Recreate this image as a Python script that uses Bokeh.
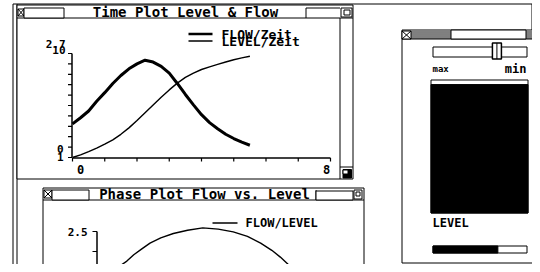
from bokeh.plotting import figure
from bokeh.models import Range1d
from bokeh.embed import file_html
from bokeh.resources import INLINE
from bokeh.core.properties import value

# ---------------- data ----------------
time = [0, 0.25, 0.5, 0.75, 1.0, 1.25, 1.5, 1.75, 2.0, 2.25, 2.5, 2.75,
        3.0, 3.25, 3.5, 3.75, 4.0, 4.25, 4.5, 4.75, 5.0, 5.25, 5.5]
flow = [1.55, 1.65, 1.76, 1.92, 2.06, 2.21, 2.34, 2.45, 2.53, 2.59, 2.56, 2.49,
        2.38, 2.21, 2.03, 1.86, 1.70, 1.57, 1.47, 1.38, 1.31, 1.25, 1.20]
level = [0.0, 0.25, 0.56, 0.9, 1.28, 1.7, 2.23, 2.85, 3.55, 4.3, 5.06, 5.8,
         6.5, 7.15, 7.7, 8.12, 8.46, 8.72, 8.95, 9.18, 9.4, 9.58, 9.73]

time_ticks = [0, 1, 2, 3, 4, 5, 6, 7, 8]
time_tick_labels = ["0", "8"]
level_ticks = [0, 1, 2, 3, 4, 5, 6, 7, 8, 9, 10]
level_tick_labels = ["10", "0"]
flow_tick_labels = ["2.7", "1"]
phase_flow_ticks = [2.5, 2.0, 1.5]
phase_flow_label = "2.5"
legend_time = ["FLOW/Zeit", "LEVEL/Zeit"]
legend_phase = "FLOW/LEVEL"
titles = ["Time Plot Level & Flow", "Phase Plot Flow vs. Level"]
slider_value = 0.68      # fraction of slider travel
progress_value = 0.69    # fraction of progress bar
level_max = 10.0         # gauge full scale

# ---------------- layout (screen pixel geometry) ----------------
W, H = 532, 264
X0, Y0 = 0, 0
FONT = value("DejaVu Sans Mono")

p = figure(width=W, height=H, output_backend="svg", toolbar_location=None,
           x_range=Range1d(X0, X0 + W), y_range=Range1d(Y0 + H, Y0),
           min_border=0, outline_line_color=None)
p.axis.visible = False
p.grid.visible = False
p.background_fill_color = "white"
p.border_fill_color = "white"

# time plot mapping: t 0..8 -> x 72..330 ; level 0..10 -> y 157..53 ; flow 1..2.7 -> same
tx0, tx1 = 72, 330
ty0, ty1 = 157, 53
kt = (tx1 - tx0) / (time_ticks[-1] - time_ticks[0])
kl = (ty0 - ty1) / (level_ticks[-1] - level_ticks[0])
kf = (ty0 - ty1) / (2.7 - 1.0)
p.extra_x_ranges = {
    "t": Range1d((X0 - tx0) / kt, time_ticks[-1] + (X0 + W - tx1) / kt),
}
p.extra_y_ranges = {
    "level": Range1d(-(Y0 + H - ty0) / kl, 10 + (ty1 - Y0) / kl),
    "flow": Range1d(1.0 - (Y0 + H - ty0) / kf, 2.7 + (ty1 - Y0) / kf),
}
# phase plot mapping: level 0 -> x 115 ; flow 2.5 -> y 231
px0, kpx = 115, 20.3
py0, kpy = 231, 40.0
p.extra_x_ranges["plevel"] = Range1d((X0 - px0) / kpx, (X0 + W - px0) / kpx)
p.extra_y_ranges["pflow"] = Range1d(2.5 - (Y0 + H - py0) / kpy, 2.5 + (py0 - Y0) / kpy)


def box(l, r, t, b, fill="white", lw=1):
    p.quad(left=[l], right=[r], top=[t], bottom=[b], fill_color=fill,
           line_color="black", line_width=lw)


def hline(x0, x1, y, lw=1):
    p.segment(x0=[x0], x1=[x1], y0=[y], y1=[y], line_color="black", line_width=lw)


def vline(x, y0, y1, lw=1):
    p.segment(x0=[x], x1=[x], y0=[y0], y1=[y1], line_color="black", line_width=lw)


def closebox(l, r, t, b):
    box(l, r, t, b)
    p.segment(x0=[l, l], x1=[r, r], y0=[t, b], y1=[b, t], line_color="black", line_width=1)


def label(x, y, s, size="13px", align="left", style="bold", **kw):
    p.text(x=[x], y=[y], text=[s], text_font=FONT, text_font_size=size,
           text_font_style=style, text_align=align, text_baseline="middle",
           text_color="black", **kw)


# ---------------- background desktop frame ----------------
hline(12.5, 534.5, 3.5)
vline(12.5, 3.5, 275)
vline(16.5, 3.5, 275)
vline(531.5, 3.5, 262.5)

# ---------------- top window ----------------
box(16.5, 352.5, 4.5, 178.5)
hline(16.5, 352.5, 17.5)
closebox(17.5, 23.5, 8.5, 15.5)
box(23.5, 63.5, 7.5, 17.5)
vline(305.5, 7.5, 17.5)
hline(305.5, 339.5, 7.5)
box(340.5, 351.5, 7.5, 16.5)
box(343.5, 349.5, 9.5, 14.5)
label(185, 11, titles[0], size="14px", align="center")
# scrollbar + grow box
vline(339.5, 17.5, 178.5)
hline(339.5, 352.5, 166.5)
p.quad(left=[342.5], right=[351], top=[169], bottom=[177.5], fill_color="black", line_color="black")
box(342.5, 347.5, 169.5, 173.5)

# time plot axes
p.segment(x0=[tx0 - 0.5], x1=[tx0 - 0.5], y0=[level_ticks[0]], y1=[level_ticks[-1]],
          y_range_name="level", line_color="black", line_width=1.5)
p.segment(x0=[tx0 - 4.5] * len(level_ticks), x1=[tx0 - 0.5] * len(level_ticks),
          y0=level_ticks, y1=level_ticks, y_range_name="level",
          line_color="black", line_width=1.2)
p.segment(x0=[time_ticks[0]], x1=[time_ticks[-1]], y0=[ty0 + 0.5], y1=[ty0 + 0.5],
          x_range_name="t", line_color="black", line_width=1.5)
p.segment(x0=time_ticks, x1=time_ticks, y0=[ty0 + 0.5] * len(time_ticks),
          y1=[ty0 + 4] * len(time_ticks), x_range_name="t", line_color="black", line_width=1.2)
p.text(x=[time_ticks[0], time_ticks[-1]], y=[169, 169], text=time_tick_labels,
       x_range_name="t", x_offset=[8, -4], text_font=FONT, text_font_size="12px",
       text_font_style="bold", text_align="center", text_baseline="middle")
# dual y labels (LEVEL and FLOW scales superimposed)
p.text(x=[65, 63], y=[level_ticks[-1], level_ticks[0]], text=level_tick_labels,
       y_range_name="level", y_offset=[-4, -9], text_font=FONT, text_font_size="11px",
       text_font_style="bold", text_align="right", text_baseline="middle")
p.text(x=[65, 63], y=[2.7, 1.0], text=flow_tick_labels, y_range_name="flow",
       y_offset=[-10, -1], text_font=FONT, text_font_size="11px",
       text_font_style="bold", text_align="right", text_baseline="middle")

# curves
p.line(time, flow, x_range_name="t", y_range_name="flow", line_color="black",
       line_width=3, line_join="round")
p.line(time, level, x_range_name="t", y_range_name="level", line_color="black",
       line_width=1.4, line_join="round")

# legend
hline(188, 212, 33.5, lw=2.5)
hline(188, 212, 40.5, lw=1.5)
label(221, 33.5, legend_time[0], size="13px")
label(221, 41, legend_time[1], size="13px")

# ---------------- bottom window (phase plot) ----------------
box(42.5, 363.5, 187.5, 285)
hline(42.5, 363.5, 199.5)
closebox(43.5, 51.5, 189.5, 197.5)
box(51.5, 88.5, 189.5, 199.5)
vline(315.5, 189.5, 199.5)
box(315.5, 352.5, 190.5, 199.5)
box(353.5, 361.5, 189.5, 198.5)
box(355.5, 359.5, 191.5, 195.5)
label(204, 193, titles[1], size="14px", align="center")

p.segment(x0=[96.5], x1=[96.5], y0=[phase_flow_ticks[0]], y1=[phase_flow_ticks[-1]],
          y_range_name="pflow", line_color="black", line_width=1.5)
p.segment(x0=[92] * len(phase_flow_ticks), x1=[96.5] * len(phase_flow_ticks),
          y0=phase_flow_ticks, y1=phase_flow_ticks, y_range_name="pflow",
          line_color="black", line_width=1.2)
p.text(x=[87], y=[phase_flow_ticks[0]], text=[phase_flow_label], y_range_name="pflow",
       text_font=FONT, text_font_size="11px", text_font_style="bold",
       text_align="right", text_baseline="middle")
p.line(level, flow, x_range_name="plevel", y_range_name="pflow", line_color="black",
       line_width=1.4, line_join="round")
hline(212, 237, 222.5, lw=1.4)
label(245, 222.5, legend_phase, size="12px")

# ---------------- right window (controls) ----------------
box(401.5, 535.5, 29.5, 262.5)
hline(401.5, 535.5, 38.5)
closebox(401.5, 410.5, 30.5, 38.5)
for yy in (31.5, 33.5, 35.5, 37.5):
    hline(410.5, 450.5, yy)
    hline(525.5, 535.5, yy)
box(450.5, 525.5, 29.5, 38.5)

# slider
sl_l, sl_r = 432.5, 526.5
box(sl_l, sl_r, 46.5, 56.5)
cx = sl_l + slider_value * (sl_r - sl_l)
box(cx - 4.5, cx + 4.5, 42.5, 58.5, lw=1.5)
vline(cx, 42.5, 58.5)
label(432, 68.5, "max", size="9px")
label(526, 68, "min", size="12px", align="right")

# level gauge
g_l, g_r, g_t, g_b = 430.5, 527.5, 79.5, 212.5
box(g_l, g_r, g_t, g_b)
frac = level[-1] / level_max
p.quad(left=[g_l], right=[g_r], bottom=[g_b], top=[g_b - frac * (g_b - g_t - 1)],
       fill_color="black", line_color="black")
label(432, 222.5, "LEVEL", size="12px")

# progress bar
pb_l, pb_r = 432.5, 526.5
box(pb_l, pb_r, 245.5, 252.5)
p.quad(left=[pb_l], right=[pb_l + progress_value * (pb_r - pb_l)], top=[245.5],
       bottom=[252.5], fill_color="black", line_color="black")

open("out.html", "w").write(file_html(p, INLINE))
